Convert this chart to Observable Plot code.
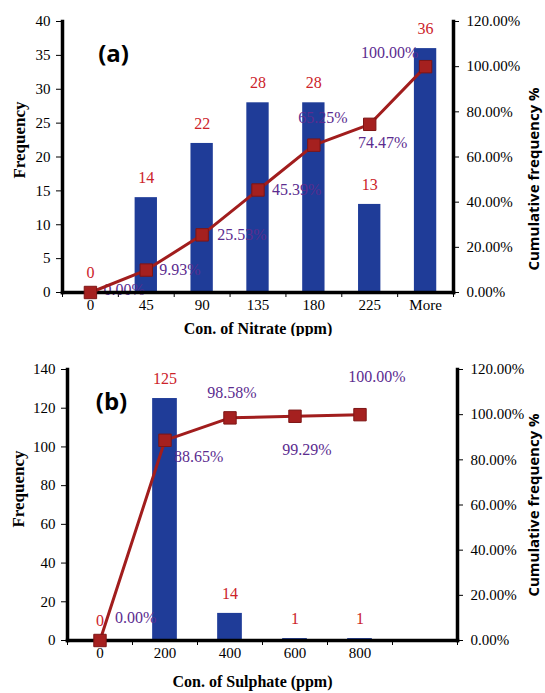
<!DOCTYPE html>
<html>
<head>
<meta charset="utf-8">
<script src="https://cdn.jsdelivr.net/npm/d3@7"></script>
<script src="https://cdn.jsdelivr.net/npm/@observablehq/plot@0.6"></script>
<style>
  html, body { margin: 0; padding: 0; background: #fff; }
  #chart svg { display: block; }
</style>
</head>
<body>
<div id="chart"></div>
<script>
// ---- Data ----
const nitrateBins = ["0", "45", "90", "135", "180", "225", "More"];
const nitrateFreq = [0, 14, 22, 28, 28, 13, 36];
const nitrateCum = [0, 9.93, 25.53, 45.39, 65.25, 74.47, 100];

const sulphateBins = ["0", "200", "400", "600", "800", ""];
const sulphateFreq = [0, 125, 14, 1, 1];
const sulphateCum = [0, 88.65, 98.58, 99.29, 100];

const nitrateFreqTicks = [0, 5, 10, 15, 20, 25, 30, 35, 40];
const sulphateFreqTicks = [0, 20, 40, 60, 80, 100, 120, 140];
const cumTicks = [0, 20, 40, 60, 80, 100, 120];

// ---- Styling / placement ----
const BAR = "#1f3c98";
const LINE = "#a11d1d";
const RED = "#cc2229";
const PURPLE = "#5b2c8f";
const SERIF = "'Liberation Serif', 'Times New Roman', serif";
const SANS = "'Open Sans', 'Liberation Sans', sans-serif";

function panel(cfg) {
  const n = cfg.bins.length;
  const k = cfg.yMax / 120;
  const bars = cfg.freq.map((f, i) => ({i, f}));
  const pts = cfg.cum.map((c, i) => ({i, c, y: c * k, label: c.toFixed(2) + "%"}));
  const pctMarks = pts.map((p, j) => {
    const pos = cfg.pctPos[j];
    return Plot.text([p], {x: "i", y: "y", text: "label", dx: pos[0], dy: pos[1], textAnchor: pos[2],
      fill: PURPLE, fontSize: 16, fontFamily: SERIF});
  });
  return Plot.plot({
    width: 545,
    height: cfg.height,
    marginLeft: cfg.ml, marginRight: cfg.mr, marginTop: cfg.mt, marginBottom: cfg.mb,
    x: {domain: [-0.5, n - 0.5]},
    y: {domain: [0, cfg.yMax]},
    style: {fontFamily: SERIF, fontSize: "15px", color: "#000", background: "#fff"},
    marks: [
      Plot.axisY({ticks: cfg.yTicks, tickSize: 6, tickPadding: 6, label: null, fontSize: 15, fontFamily: SERIF}),
      Plot.axisY({anchor: "right", ticks: cumTicks.map(p => p * k), tickFormat: d => (d / k).toFixed(2) + "%",
        tickSize: 5, tickPadding: 8, label: null, fontSize: 15, fontFamily: SERIF}),
      Plot.axisX({ticks: d3.range(n), tickFormat: i => cfg.bins[i], tickSize: 0, tickPadding: 7, label: null,
        fontSize: 15, fontFamily: SERIF}),
      Plot.axisX({ticks: d3.range(n + 1).map(i => i - 0.5), tickFormat: () => "", tickSize: 5, label: null}),
      Plot.rectY(bars, {x1: d => d.i - cfg.half, x2: d => d.i + cfg.half, y: "f", fill: BAR}),
      Plot.text(bars, {x: "i", y: "f", text: d => String(d.f), dy: -20, fill: RED, fontSize: 16, fontFamily: SERIF}),
      ...pctMarks,
      Plot.frame({anchor: "left", strokeWidth: 3.5, stroke: "#000"}),
      Plot.frame({anchor: "right", strokeWidth: 3.5, stroke: "#000"}),
      Plot.frame({anchor: "bottom", strokeWidth: 3.5, stroke: "#000"}),
      Plot.line(pts, {x: "i", y: "y", stroke: LINE, strokeWidth: 3}),
      Plot.dot(pts, {x: "i", y: "y", symbol: "square", r: 7, fill: "#a5201f", stroke: "#7d1515", strokeWidth: 1}),
      Plot.text([cfg.tag], {frameAnchor: "top-left", dx: cfg.tagPos[0], dy: cfg.tagPos[1], textAnchor: "middle",
        fontFamily: SANS, fontWeight: "bold", fontSize: 24, fill: "#000"}),
      Plot.text(["Frequency"], {frameAnchor: "left", dx: cfg.yLabPos[0], dy: cfg.yLabPos[1], rotate: -90,
        textAnchor: "middle", fontFamily: SERIF, fontWeight: "bold", fontSize: 17, fill: "#000"}),
      Plot.text(["Cumulative frequency %"], {frameAnchor: "right", dx: cfg.rLabPos[0], dy: cfg.rLabPos[1], rotate: -90,
        textAnchor: "middle", fontFamily: SANS, fontWeight: "bold", fontSize: 15, fill: "#000"}),
      Plot.text([cfg.xLabel], {frameAnchor: "bottom", dx: cfg.xLabPos[0], dy: cfg.xLabPos[1],
        textAnchor: "middle", fontFamily: SERIF, fontWeight: "bold", fontSize: 16, fill: "#000"})
    ]
  });
}

const chartA = panel({
  bins: nitrateBins, freq: nitrateFreq, cum: nitrateCum, yMax: 40, yTicks: nitrateFreqTicks,
  height: 336, ml: 62, mr: 92, mt: 21, mb: 44, half: 0.2,
  pctPos: [[13, -3, "start"], [13, 0, "start"], [15, 0, "start"], [14, 0, "start"], [9, -27, "middle"], [13, 19, "middle"], [-36, -14, "middle"]],
  tag: "(a)", tagPos: [51, 23],
  yLabPos: [-43, -17], rLabPos: [81, 22], xLabel: "Con. of Nitrate (ppm)", xLabPos: [0, 41]
});

const chartB = panel({
  bins: sulphateBins, freq: sulphateFreq, cum: sulphateCum, yMax: 140, yTicks: sulphateFreqTicks,
  height: 357, ml: 67, mr: 88, mt: 33, mb: 53, half: 0.19,
  pctPos: [[15, -23, "start"], [9, 17, "start"], [2, -25, "middle"], [12, 34, "middle"], [17, -38, "middle"]],
  tag: "(b)", tagPos: [44, 23],
  yLabPos: [-49, -16], rLabPos: [77, 0], xLabel: "Con. of Sulphate (ppm)", xLabPos: [-10, 46]
});

document.getElementById("chart").append(chartA, chartB);
</script>
</body>
</html>
